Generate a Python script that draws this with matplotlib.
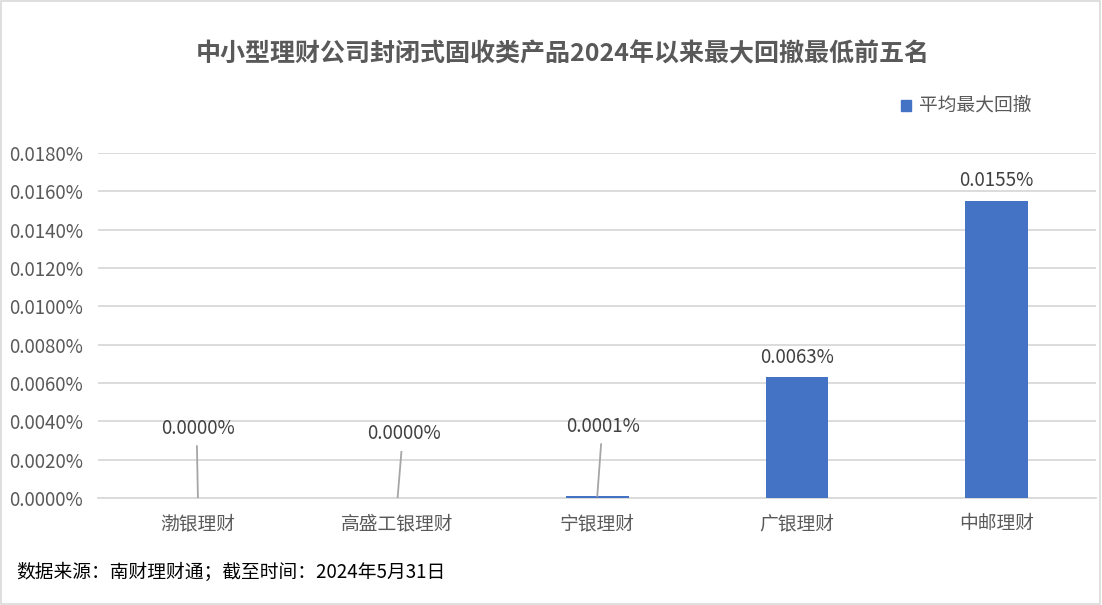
import matplotlib.pyplot as plt
from matplotlib.patches import Rectangle
from matplotlib.ticker import FuncFormatter

plt.rcParams['font.family'] = ['Noto Sans CJK SC', 'DejaVu Sans']

# data (values in percent)
companies = ['渤银理财', '高盛工银理财', '宁银理财', '广银理财', '中邮理财']
drawdown = [0.0, 0.0, 0.0001, 0.0063, 0.0155]
series_name = '平均最大回撤'
title = '中小型理财公司封闭式固收类产品2024年以来最大回撤最低前五名'
source = '数据来源：南财理财通；截至时间：2024年5月31日'

bar_color = '#4472C4'
grey = '#595959'

fig = plt.figure(figsize=(11.02, 6.05), dpi=100)
ax = fig.add_axes([0.089, 0.177, 0.906, 0.570])

x = list(range(len(companies)))
ax.bar(x, drawdown, width=0.315, color=bar_color, zorder=3, label=series_name)

ax.set_xlim(-0.5, len(companies) - 0.5)
ax.set_ylim(0, 0.018)
ax.set_yticks([i * 0.002 for i in range(10)])
ax.yaxis.set_major_formatter(FuncFormatter(lambda v, p: f'{v:.4f}%'))
ax.grid(axis='y', color='#d9d9d9', linewidth=1.3, zorder=0)
ax.set_xticks(x)
ax.set_xticklabels(companies)
ax.tick_params(axis='both', length=0, labelsize=13.5, colors=grey)
ax.tick_params(axis='x', pad=11)
ax.tick_params(axis='y', pad=11)
for s in ['top', 'right', 'left']:
    ax.spines[s].set_visible(False)
ax.spines['bottom'].set_color('#d9d9d9')
ax.spines['bottom'].set_linewidth(1.3)

# data labels; small values get a leader line
offsets = [(0.0, 0.0031), (0.03, 0.0028), (0.03, 0.0031), (0, 0), (0, 0)]
for i, v in enumerate(drawdown):
    lab = f'{v:.4f}%'
    dx, dy = offsets[i]
    if dy > 0:
        ax.text(i + dx, v + dy, lab, ha='center', va='bottom', fontsize=13.5,
                color='#404040', zorder=4)
        ax.plot([i + dx * 0.8 - 0.005, i], [v + dy - 0.0004, v],
                color='#a6a6a6', linewidth=1.3, zorder=4)
    else:
        ax.text(i, v + 0.0005, lab, ha='center', va='bottom', fontsize=13.5,
                color='#404040', zorder=4)

fig.text(0.511, 0.911, title, ha='center', va='center', fontsize=18,
         fontweight='bold', color=grey)

fig.patches.append(Rectangle((0.8175, 0.817), 0.0095, 0.0185, transform=fig.transFigure,
                             color=bar_color, figure=fig))
fig.text(0.834, 0.826, series_name, ha='left', va='center', fontsize=13.5, color=grey)

fig.text(0.015, 0.054, source, ha='left', va='center', fontsize=13.5, color='black')

fig.patches.append(Rectangle((0.0005, 0.001), 0.998, 0.997, transform=fig.transFigure,
                             fill=False, edgecolor='#d9d9d9', linewidth=1.2, figure=fig))

fig.savefig('out.png', dpi=100)
